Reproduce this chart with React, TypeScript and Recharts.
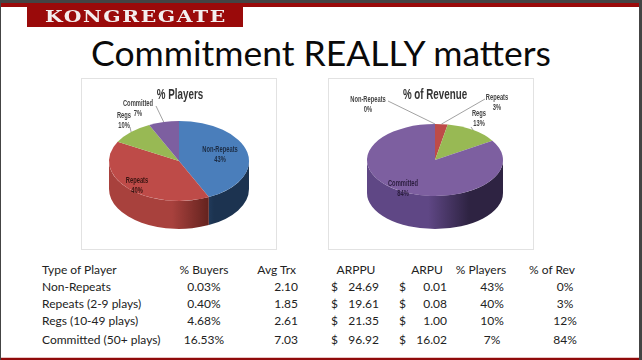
import React from 'react';
import { PieChart, Pie, Cell } from 'recharts';

const playerSegments = ['Non-Repeats', 'Repeats', 'Regs', 'Committed'];
const playerShares = [43, 40, 10, 7];
const revenueSegments = ['Non-Repeats', 'Repeats', 'Regs', 'Committed'];
const revenueShares = [0, 3, 13, 84];

const tableHeader = ['Type of Player', '% Buyers', 'Avg Trx', 'ARPPU', 'ARPU', '% Players', '% of Rev'];
const playerTypes = ['Non-Repeats', 'Repeats (2-9 plays)', 'Regs (10-49 plays)', 'Committed (50+ plays)'];
const pctBuyers = ['0.03%', '0.40%', '4.68%', '16.53%'];
const avgTrx = ['2.10', '1.85', '2.61', '7.03'];
const arppu = ['24.69', '19.61', '21.35', '96.92'];
const arpu = ['0.01', '0.08', '1.00', '16.02'];
const pctPlayers = ['43%', '40%', '10%', '7%'];
const pctRev = ['0%', '3%', '12%', '84%'];

const FONT = 'Lato, "Open Sans", sans-serif';
const CHART_FONT = '"Liberation Sans", sans-serif';
const TOP_COLORS = ['#4a7ebb', '#be4b48', '#98b954', '#7d5fa0'];
const WALL_LEFT = ['#3f6ba0', '#a8413d', '#7f9b45', '#5f4785'];
const WALL_RIGHT = ['#1c3350', '#5a1e1a', '#4f6128', '#2e2342'];

const RAD = Math.PI / 180;

// recharts only does round pies, so squash each sector into an ellipse here
const ellipsePoint = (cx: number, cy: number, r: number, tilt: number, deg: number) => ({
  x: cx + r * Math.cos(deg * RAD),
  y: cy - r * tilt * Math.sin(deg * RAD),
});

const TopSector = (tilt: number) => (p: any) => {
  const a = ellipsePoint(p.cx, p.cy, p.outerRadius, tilt, p.startAngle);
  const b = ellipsePoint(p.cx, p.cy, p.outerRadius, tilt, p.endAngle);
  const large = Math.abs(p.endAngle - p.startAngle) > 180 ? 1 : 0;
  return (
    <path
      d={`M${p.cx},${p.cy} L${a.x},${a.y} A${p.outerRadius},${p.outerRadius * tilt} 0 ${large} 1 ${b.x},${b.y} Z`}
      fill={p.fill}
    />
  );
};

// side wall: angles run 90 .. -270, only the front half (0 .. -180) shows
const WallSector = (tilt: number, depth: number) => (p: any) => {
  const start = Math.min(Math.max(p.startAngle, p.endAngle), 0);
  const end = Math.max(Math.min(p.startAngle, p.endAngle), -180);
  if (start <= end) return <g />;
  const r = p.outerRadius;
  const a = ellipsePoint(p.cx, p.cy, r, tilt, start);
  const b = ellipsePoint(p.cx, p.cy, r, tilt, end);
  return (
    <path
      d={`M${a.x},${a.y} A${r},${r * tilt} 0 0 1 ${b.x},${b.y} L${b.x},${b.y + depth} A${r},${r * tilt} 0 0 0 ${a.x},${a.y + depth} Z`}
      fill={p.fill}
    />
  );
};

// no condensed font installed, the text gets squeezed horizontally instead
const Squeezed: React.FC<{ x: number; y: number; size: number; squeeze: number; color: string; children: React.ReactNode }> = ({ x, y, size, squeeze, color, children }) => (
  <text transform={`translate(${x},${y}) scale(${squeeze},1)`} textAnchor="middle" fontSize={size} fontWeight={700} fontFamily={CHART_FONT} fill={color}>
    {children}
  </text>
);

type Note = { dx: number; dy: number; color: string; line?: [number, number] };

const makeLabel = (tilt: number, notes: Note[], size: number) => (p: any) => {
  const n = notes[p.index];
  const edge = ellipsePoint(p.cx, p.cy, p.outerRadius, tilt, p.midAngle);
  const tx = p.cx + n.dx;
  const ty = p.cy + n.dy;
  return (
    <g>
      {n.line && (
        <polyline
          points={`${edge.x},${edge.y} ${tx + n.line[0]},${ty + n.line[1]}`}
          fill="none"
          stroke="#8a8a8a"
          strokeWidth={0.8}
        />
      )}
      <Squeezed x={tx} y={ty} size={size} squeeze={0.68} color={n.color}>{p.name}</Squeezed>
      <Squeezed x={tx} y={ty + 10} size={size} squeeze={0.68} color={n.color}>{p.value}%</Squeezed>
    </g>
  );
};

const playerNotes: Note[] = [
  { dx: 41, dy: -9, color: '#1c2c44' },
  { dx: -42, dy: 22, color: '#3a1512' },
  { dx: -55, dy: -43, color: '#444', line: [6, 9] },
  { dx: -41, dy: -55, color: '#444', line: [18, 0] },
];

const revenueNotes: Note[] = [
  { dx: -67, dy: -58, color: '#444', line: [20, -1] },
  { dx: 62, dy: -60, color: '#444', line: [-12, -1] },
  { dx: 44, dy: -44, color: '#444', line: [-8, 11] },
  { dx: -32, dy: 26, color: '#2a1c3d' },
];

type PanelProps = {
  id: string;
  title: string;
  names: string[];
  values: number[];
  left: number;
  top: number;
  width: number;
  height: number;
  cx: number;
  cy: number;
  radius: number;
  tilt: number;
  depth: number;
  notes: Note[];
  titleX: number;
};

const Panel: React.FC<PanelProps> = ({ id, title, names, values, left, top, width, height, cx, cy, radius, tilt, depth, notes, titleX }) => {
  const data = names.map((name, i) => ({ name, value: values[i] }));
  return (
    <div style={{ position: 'absolute', left, top, width, height, border: '1px solid #e2e2e2', boxSizing: 'border-box', filter: 'blur(0.45px)' }}>
      <PieChart width={width - 2} height={height - 2} margin={{ top: 0, right: 0, bottom: 0, left: 0 }}>
        <defs>
          {TOP_COLORS.map((_, i) => (
            <linearGradient key={i} id={`${id}-wall-${i}`} gradientUnits="userSpaceOnUse" x1={cx - radius} x2={cx + radius} y1={0} y2={0}>
              <stop offset="0%" stopColor={WALL_LEFT[i]} />
              <stop offset="45%" stopColor={WALL_LEFT[i]} />
              <stop offset="75%" stopColor={WALL_RIGHT[i]} />
              <stop offset="100%" stopColor={WALL_RIGHT[i]} />
            </linearGradient>
          ))}
        </defs>
        <Squeezed x={titleX} y={20} size={14} squeeze={0.7} color="#333">{title}</Squeezed>
        <Pie
          data={data}
          dataKey="value"
          nameKey="name"
          cx={cx}
          cy={cy}
          innerRadius={0}
          outerRadius={radius}
          startAngle={90}
          endAngle={-270}
          stroke="none"
          isAnimationActive={false}
          shape={WallSector(tilt, depth)}
        >
          {data.map((_, i) => (
            <Cell key={i} fill={`url(#${id}-wall-${i})`} />
          ))}
        </Pie>
        <Pie
          data={data}
          dataKey="value"
          nameKey="name"
          cx={cx}
          cy={cy}
          innerRadius={0}
          outerRadius={radius}
          startAngle={90}
          endAngle={-270}
          stroke="none"
          isAnimationActive={false}
          shape={TopSector(tilt)}
          label={makeLabel(tilt, notes, 8.5)}
          labelLine={false}
        >
          {data.map((_, i) => (
            <Cell key={i} fill={TOP_COLORS[i]} />
          ))}
        </Pie>
      </PieChart>
    </div>
  );
};

const TableText: React.FC<{ x: number; y: number; align: 'left' | 'right' | 'center'; children: React.ReactNode }> = ({ x, y, align, children }) => {
  const shift = align === 'left' ? '0' : align === 'right' ? '-100%' : '-50%';
  return (
    <div style={{ position: 'absolute', left: x, top: y, transform: `translateX(${shift})`, fontFamily: FONT, fontSize: 12, lineHeight: '14px', color: '#222', whiteSpace: 'nowrap' }}>
      {children}
    </div>
  );
};

const rowTops = [280, 297, 314, 333];

export default function App() {
  return (
    <div style={{ position: 'absolute', left: 0, top: 0, width: 642, height: 360, background: '#fff', overflow: 'hidden' }}>
      <div style={{ position: 'absolute', left: 0, top: 0, width: 642, height: 3, background: '#444' }} />
      <div style={{ position: 'absolute', left: 0, top: 0, width: 1, height: 360, background: '#444' }} />
      <div style={{ position: 'absolute', left: 639, top: 0, width: 3, height: 360, background: '#444' }} />
      <div style={{ position: 'absolute', left: 1, top: 3, width: 638, height: 4, background: '#9a0a0a' }} />
      <div style={{ position: 'absolute', left: 1, top: 357, width: 638, height: 3, background: '#8f0a0a', borderTop: '1px solid #e8c4c4', boxSizing: 'border-box' }} />
      <div style={{ position: 'absolute', left: 27, top: 6, width: 216, height: 21, background: '#9a0a0a' }} />
      <div style={{ position: 'absolute', left: 45, top: 6, transformOrigin: 'left center', transform: 'scaleX(1.16)', fontFamily: '"DejaVu Serif", serif', fontWeight: 700, fontSize: 17.5, lineHeight: '20px', letterSpacing: 1.4, color: '#f4eeee' }}>
        KONGREGATE
      </div>
      <div style={{ position: 'absolute', left: 0, width: 642, top: 31, textAlign: 'center', fontFamily: FONT, fontSize: 35.5, lineHeight: '44px', color: '#0a0a0a' }}>
        Commitment REALLY matters
      </div>

      <Panel id="players" title="% Players" names={playerSegments} values={playerShares} left={81} top={78} width={196} height={172} cx={97} cy={82} radius={70} tilt={0.57} depth={28} notes={playerNotes} titleX={98} />
      <Panel id="revenue" title="% of Revenue" names={revenueSegments} values={revenueShares} left={328} top={78} width={206} height={172} cx={106} cy={81} radius={68} tilt={0.53} depth={33} notes={revenueNotes} titleX={106} />

      <TableText x={42} y={263} align="left">{tableHeader[0]}</TableText>
      <TableText x={204} y={263} align="center">{tableHeader[1]}</TableText>
      <TableText x={296} y={263} align="right">{tableHeader[2]}</TableText>
      <TableText x={356} y={263} align="center">{tableHeader[3]}</TableText>
      <TableText x={427} y={263} align="center">{tableHeader[4]}</TableText>
      <TableText x={481} y={263} align="center">{tableHeader[5]}</TableText>
      <TableText x={552} y={263} align="center">{tableHeader[6]}</TableText>
      {playerTypes.map((t, i) => (
        <React.Fragment key={t}>
          <TableText x={42} y={rowTops[i]} align="left">{t}</TableText>
          <TableText x={204} y={rowTops[i]} align="center">{pctBuyers[i]}</TableText>
          <TableText x={298} y={rowTops[i]} align="right">{avgTrx[i]}</TableText>
          <TableText x={331} y={rowTops[i]} align="left">$</TableText>
          <TableText x={379} y={rowTops[i]} align="right">{arppu[i]}</TableText>
          <TableText x={399} y={rowTops[i]} align="left">$</TableText>
          <TableText x={447} y={rowTops[i]} align="right">{arpu[i]}</TableText>
          <TableText x={492} y={rowTops[i]} align="center">{pctPlayers[i]}</TableText>
          <TableText x={565} y={rowTops[i]} align="center">{pctRev[i]}</TableText>
        </React.Fragment>
      ))}
    </div>
  );
}
